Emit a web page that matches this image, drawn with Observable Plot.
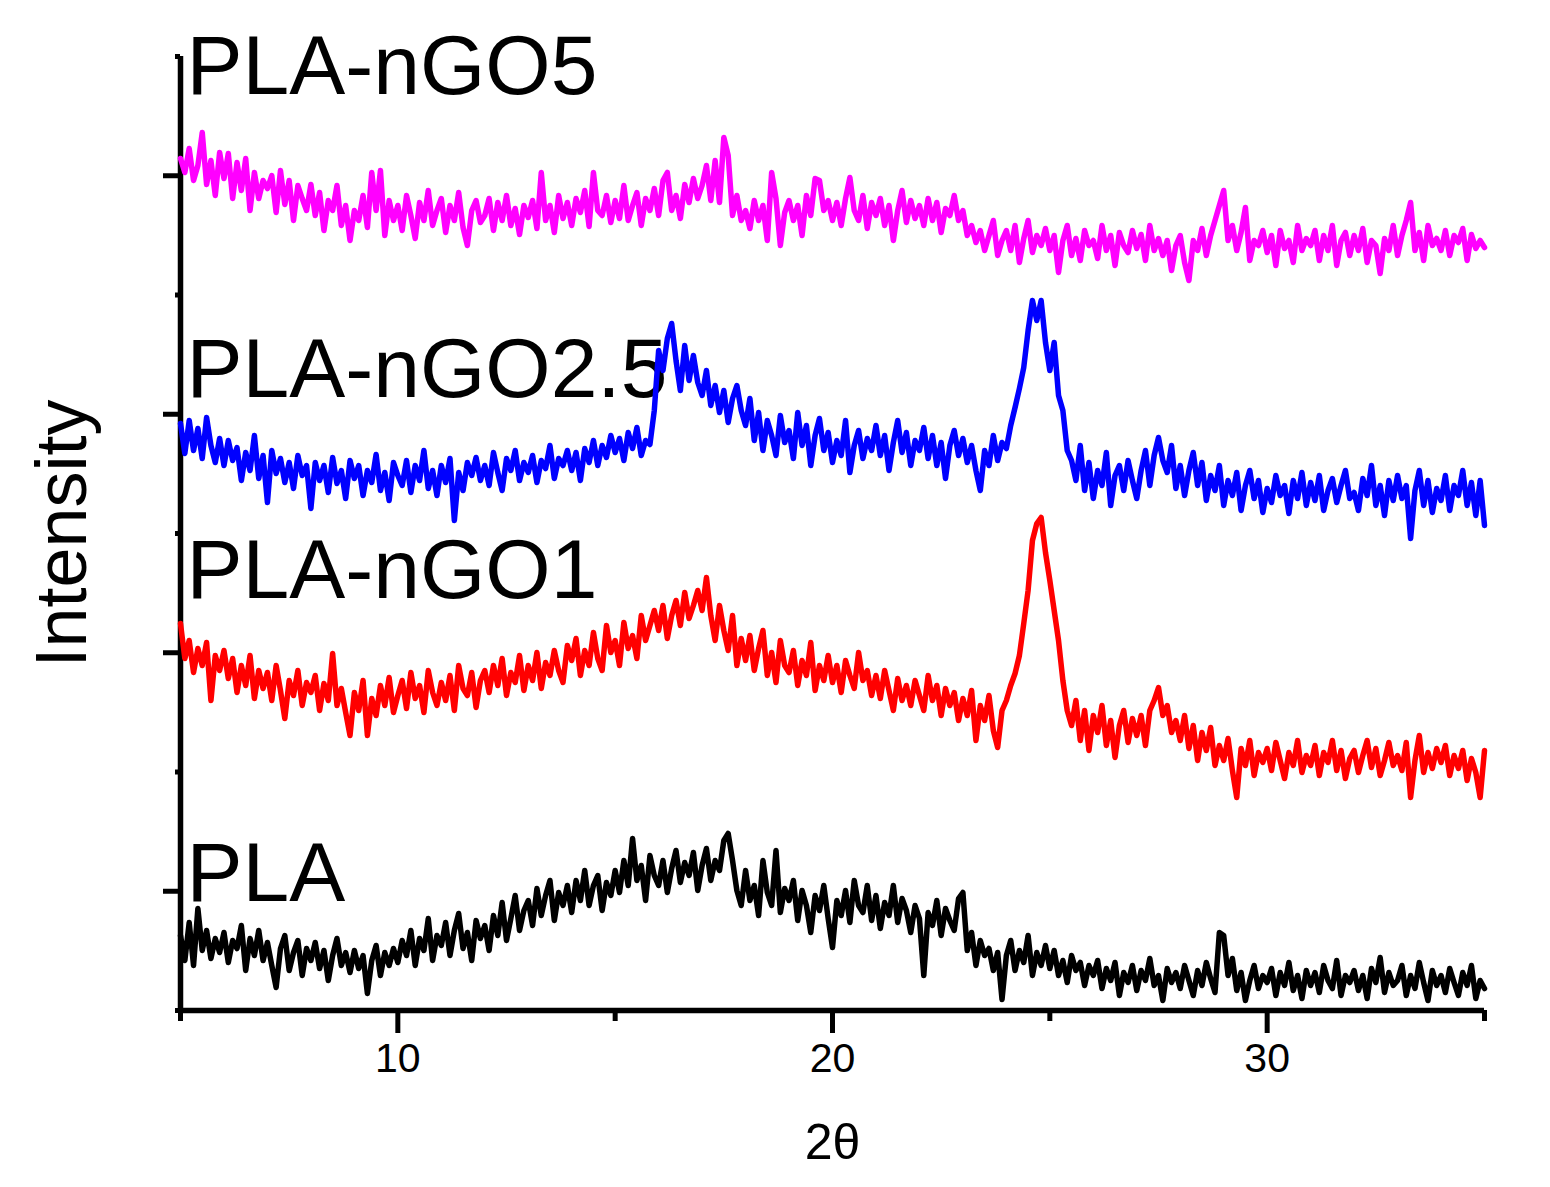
<!DOCTYPE html>
<html>
<head>
<meta charset="utf-8">
<script src="https://cdn.jsdelivr.net/npm/d3@7"></script>
<script src="https://cdn.jsdelivr.net/npm/@observablehq/plot@0.6"></script>
<style>
  html, body { margin: 0; padding: 0; background: #ffffff; }
  #chart svg { font-family: "Liberation Sans", Arial, sans-serif; display: block; }
</style>
</head>
<body>
<div id="chart"></div>
<script>
// ---- data (intensity in arbitrary units) ----
const seriesNames = ["PLA", "PLA-nGO1", "PLA-nGO2.5", "PLA-nGO5"];
const seriesColors = ["#000000", "#ff0000", "#0000ff", "#ff00ff"];
const xDomain = [5, 35];
const xTickLabels = [10, 20, 30];
const xMinorTicks = [5, 15, 25, 35];
const yMajorTicks = [119.25, 357.75, 596.25, 834.75];
const yMinorTicks = [0, 238.5, 477, 715.5, 954];
const yDomain = [0, 954];

// 2θ from 5 to 35 in steps of 0.1
const twoTheta = d3.range(301).map(i => 5 + i / 10);

const pla = [
  75, 50, 88, 45, 102, 60, 80, 52, 72, 58,
  78, 48, 70, 62, 85, 40, 72, 55, 80, 50,
  68, 45, 23, 62, 75, 40, 58, 70, 35, 62,
  50, 68, 42, 60, 30, 55, 72, 45, 58, 38,
  60, 42, 55, 17, 50, 65, 35, 58, 45, 62,
  48, 70, 55, 80, 45, 72, 60, 92, 50, 75,
  65, 88, 55, 80, 97, 62, 78, 50, 90, 72,
  85, 60, 95, 75, 108, 70, 92, 115, 80, 100,
  110, 85, 122, 95, 115, 130, 90, 118, 105, 125,
  98, 130, 110, 140, 105, 125, 135, 100, 128, 115,
  140, 118, 150, 125, 172, 130, 145, 110, 155, 135,
  125, 150, 118, 142, 160, 128, 148, 135, 158, 120,
  145, 162, 130, 150, 140, 170, 177, 150, 120, 105,
  140, 110, 125, 95, 150, 118, 105, 160, 98, 122,
  110, 130, 90, 120, 105, 78, 115, 100, 125, 92,
  63, 110, 95, 120, 88, 130, 105, 98, 125, 90,
  115, 82, 108, 95, 125, 88, 112, 100, 78, 105,
  92, 35, 98, 85, 110, 75, 102, 90, 80, 112,
  118, 60, 78, 45, 70, 55, 62, 40, 58, 11,
  55, 70, 40, 60, 48, 75, 35, 58, 45, 65,
  42, 60, 35, 50, 28, 55, 40, 48, 25, 45,
  35, 50, 22, 42, 30, 48, 15, 38, 28, 45,
  20, 40, 30, 52, 25, 35, 10, 42, 28, 38,
  22, 45, 30, 15, 40, 25, 48, 32, 18, 78,
  75, 35, 52, 20, 38, 10, 30, 45, 22, 35,
  28, 42, 15, 38, 25, 48, 20, 35, 12, 40,
  25, 38, 18, 45, 30, 22, 50, 15, 35, 28,
  40, 20, 35, 12, 42, 28, 53, 18, 38, 25,
  30, 45, 15, 35, 22, 48, 28, 10, 40, 25,
  35, 18, 42, 28, 15, 38, 25, 45, 12, 30,
  22
];

const ngo1 = [
  387, 352, 370, 338, 362, 345, 368, 310, 355, 340,
  360, 332, 352, 318, 345, 325, 355, 312, 340, 322,
  338, 310, 345, 320, 292, 330, 315, 340, 305, 328,
  318, 335, 300, 327, 310, 357, 305, 322, 298, 275,
  318, 300, 330, 275, 312, 295, 325, 305, 333, 298,
  315, 330, 302, 338, 312, 325, 298, 340, 318, 305,
  328, 310, 335, 300, 345, 322, 315, 338, 303, 330,
  340, 318, 345, 325, 352, 315, 338, 328, 355, 320,
  345, 330, 358, 322, 348, 335, 360, 340, 328, 365,
  350, 372, 335, 360, 345, 378, 352, 340, 385, 358,
  370, 345, 388, 362, 375, 352, 395, 370, 385, 400,
  380, 405, 372, 395, 410, 385, 418, 392, 405, 420,
  400, 433, 395, 370, 405, 380, 360, 395, 345, 372,
  350, 375, 340, 362, 380, 335, 358, 328, 370, 345,
  338, 360, 325, 350, 335, 368, 320, 345, 330, 355,
  328, 345, 318, 350, 335, 322, 358, 330, 340, 315,
  335, 312, 340, 320, 300, 332, 310, 325, 305, 330,
  315, 300, 335, 310, 325, 295, 322, 305, 318, 290,
  312, 295, 320, 270, 305, 290, 315, 280, 263, 300,
  310, 325, 337, 355, 387, 420, 470, 487, 493, 458,
  430, 400, 370, 330, 300, 285, 310, 270, 300, 260,
  295, 278, 305, 265, 290, 253, 285, 300, 268, 292,
  275, 295, 265, 300, 310, 323, 295, 305, 278, 290,
  270, 295, 262, 285, 250, 278, 260, 283, 245, 265,
  250, 272, 240, 213, 262, 245, 270, 235, 258, 248,
  262, 240, 268, 250, 232, 258, 245, 270, 238, 255,
  245, 265, 235, 258, 248, 270, 240, 260, 232, 252,
  260, 238, 255, 270, 243, 262, 235, 250, 268, 245,
  255, 240, 268, 213, 250, 275, 238, 258, 242, 262,
  248, 265, 235, 255, 242, 260, 230, 252, 238, 213,
  260
];

const ngo25 = [
  587, 557, 590, 560, 582, 552, 593, 565, 548, 572,
  545, 570, 550, 563, 530, 558, 540, 575, 532, 555,
  508, 560, 537, 552, 528, 548, 522, 555, 535, 545,
  502, 548, 530, 545, 518, 553, 527, 540, 512, 550,
  532, 545, 515, 540, 528, 556, 520, 538, 510, 548,
  535, 525, 550, 518, 545, 530, 560, 522, 540, 515,
  545, 528, 552, 490, 538, 520, 548, 535, 553, 530,
  545, 525, 558, 538, 520, 552, 540, 560, 530, 548,
  538, 555, 528, 550, 542, 565, 532, 552, 545, 560,
  540, 558, 530, 562, 548, 570, 545, 565, 553, 575,
  558, 572, 550, 578, 562, 583, 555, 570, 566, 600,
  660, 640, 672, 687, 650, 620, 665, 630, 655, 628,
  615, 640, 605, 625, 598, 620, 588, 612, 625, 600,
  585, 612, 570, 598, 560, 590, 575, 555, 595, 568,
  580, 552, 598, 565, 585, 545, 575, 592, 560, 578,
  548, 570, 555, 590, 538, 565, 580, 552, 572, 560,
  585, 555, 575, 540, 568, 590, 558, 578, 545, 570,
  560, 583, 552, 575, 545, 568, 532, 565, 580, 555,
  572, 548, 565, 540, 520, 560, 545, 575, 550, 568,
  562, 585, 603, 622, 643, 680, 710, 690, 710, 668,
  640, 668, 615, 600, 560, 550, 530, 565, 520, 548,
  512, 540, 525, 558, 505, 535, 545, 520, 550, 530,
  512, 540, 560, 525, 555, 573, 550, 538, 565, 522,
  545, 515, 540, 558, 525, 548, 510, 535, 520, 545,
  505, 530, 515, 538, 500, 525, 540, 512, 530, 498,
  522, 508, 535, 515, 525, 497, 530, 512, 538, 505,
  528, 510, 535, 500, 520, 532, 508, 525, 540, 512,
  518, 500, 532, 515, 545, 505, 525, 495, 530, 510,
  535, 512, 525, 472, 520, 540, 505, 530, 498, 522,
  510, 535, 500, 525, 515, 540, 505, 528, 495, 530,
  485
];

const ngo5 = [
  852, 838, 862, 830, 845, 878, 826, 850, 815, 858,
  832, 857, 812, 848, 820, 852, 800, 838, 812, 830,
  822, 835, 798, 840, 806, 830, 790, 825, 812, 800,
  826, 795, 818, 780, 810, 800, 825, 785, 805, 770,
  800, 790, 815, 783, 838, 800, 840, 775, 810, 790,
  805, 780, 815, 795, 772, 808, 790, 820, 785, 800,
  812, 778, 805, 790, 818, 783, 765, 800, 810, 788,
  795, 812, 780, 808, 790, 815, 785, 802, 776, 805,
  793, 810, 782, 838, 790, 805, 778, 815, 792, 808,
  785, 812, 798, 820, 784, 838, 800, 795, 815, 788,
  810, 792, 825, 790, 805, 818, 785, 812, 800, 822,
  795, 830, 838, 800, 815, 792, 826, 808, 832, 812,
  825, 845, 810, 850, 808, 873, 855, 795, 815, 790,
  800, 782, 810, 790, 805, 770, 838, 812, 765, 798,
  810, 790, 805, 775, 815, 795, 832, 830, 800, 810,
  790, 808, 785, 812, 833, 800, 790, 815, 782, 808,
  795, 812, 785, 805, 770, 800, 820, 788, 810, 792,
  805, 785, 812, 790, 808, 778, 802, 795, 815, 790,
  800, 775, 785, 768, 780, 760, 775, 790, 755, 770,
  780, 760, 785, 748, 772, 790, 758, 775, 765, 782,
  760, 775, 738, 770, 785, 755, 772, 750, 780, 765,
  770, 752, 785, 760, 775, 745, 778, 765, 758, 780,
  762, 776, 750, 785, 760, 772, 755, 770, 740, 765,
  775, 748, 730, 770, 760, 782, 755, 775, 790, 805,
  820, 770, 785, 760, 778, 803, 750, 770, 765, 780,
  758, 775, 745, 780, 762, 770, 748, 785, 760, 772,
  765, 780, 750, 775, 760, 785, 745, 770, 778, 755,
  775, 760, 782, 748, 770, 765, 737, 772, 760, 785,
  755, 775, 790, 808, 760, 778, 750, 785, 765, 772,
  760, 780, 755, 775, 768, 782, 750, 776, 762, 770,
  763
];

const seriesValues = [pla, ngo1, ngo25, ngo5];

// long table for Plot
const rows = [];
seriesValues.forEach((vals, s) => {
  vals.forEach((v, i) => {
    if (i < twoTheta.length) rows.push({twoTheta: twoTheta[i], intensity: v, sample: seriesNames[s]});
  });
});

// curve labels (annotation anchors in data units)
const curveLabels = [
  {name: "PLA-nGO5", at: 917},
  {name: "PLA-nGO2.5", at: 614},
  {name: "PLA-nGO1", at: 413},
  {name: "PLA", at: 110}
];

const font = "'Liberation Sans', Arial, sans-serif";

const chart = Plot.plot({
  width: 1550,
  height: 1187,
  marginLeft: 180,
  marginRight: 66,
  marginTop: 56,
  marginBottom: 177,
  style: {fontFamily: font, background: "#ffffff", color: "#000000", overflow: "visible"},
  x: {domain: xDomain, label: null},
  y: {domain: yDomain, label: null},
  color: {domain: seriesNames, range: seriesColors},
  marks: [
    Plot.axisX({ticks: xMinorTicks, tickSize: 11, tickFormat: () => "", strokeWidth: 5, label: null}),
    Plot.axisX({ticks: xTickLabels, tickSize: 23, tickPadding: 9, fontSize: 41, strokeWidth: 5, label: null, tickFormat: d => String(d)}),
    Plot.axisY({ticks: yMinorTicks, tickSize: 5, tickFormat: () => "", strokeWidth: 5, label: null}),
    Plot.axisY({ticks: yMajorTicks, tickSize: 17, tickFormat: () => "", strokeWidth: 5, label: null}),
    Plot.ruleY([yDomain[0]], {x1: xDomain[0], x2: xDomain[1], stroke: "#000", strokeWidth: 5.5}),
    Plot.ruleX([xDomain[0]], {y1: yDomain[0], y2: yDomain[1], stroke: "#000", strokeWidth: 5.5}),
    Plot.text(curveLabels, {
      x: () => xDomain[0], y: "at", text: "name",
      textAnchor: "start", lineAnchor: "bottom", dx: 6,
      fontSize: 84, fill: "#000"
    }),
    Plot.lineY(rows, {
      x: "twoTheta", y: "intensity", z: "sample", stroke: "sample",
      strokeWidth: 5.5, strokeLinejoin: "round", strokeLinecap: "round"
    }),
    Plot.text(["2θ"], {text: d => d, frameAnchor: "bottom", textAnchor: "middle", dy: 148, lineAnchor: "bottom", fontSize: 50, fill: "#000"}),
    Plot.text(["Intensity"], {text: d => d, frameAnchor: "left", textAnchor: "middle", dx: -95, rotate: -90, lineAnchor: "bottom", fontSize: 72, fill: "#000"})
  ]
});

document.getElementById("chart").appendChild(chart);
</script>
</body>
</html>
